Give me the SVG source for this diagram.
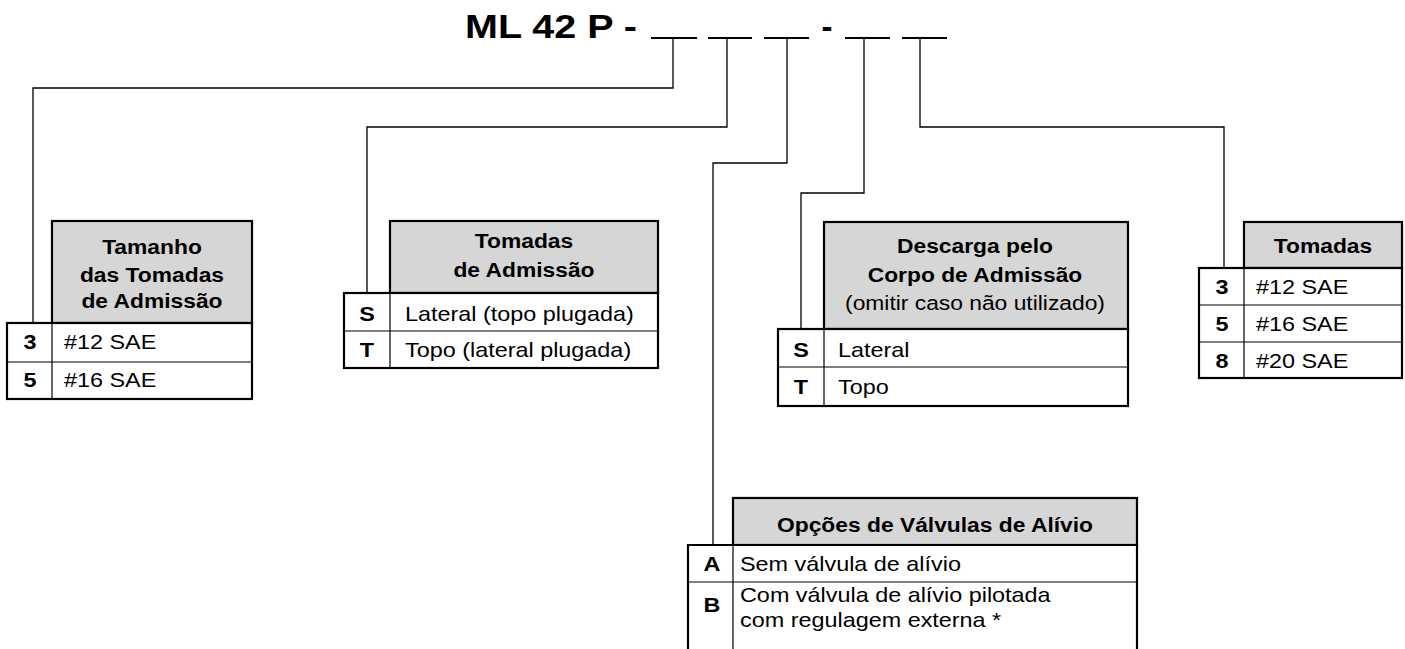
<svg xmlns="http://www.w3.org/2000/svg" width="1405" height="649" viewBox="0 0 1405 649">
<style>
.hdr{fill:#d6d6d6;stroke:#000;stroke-width:2.2}
.box{fill:#fff;stroke:#000;stroke-width:2.2}
.div{stroke:#000;stroke-width:1.2;fill:none}
.con{stroke:#000;stroke-width:1.3;fill:none}
.blank{stroke:#000;stroke-width:2}
text{font-family:"Liberation Sans",Arial,Helvetica,sans-serif;fill:#000}
.h{font-size:19.5px;font-weight:bold;text-anchor:middle}
.hn{font-size:19.5px;text-anchor:middle}
.k{font-size:20px;font-weight:bold;text-anchor:middle}
.v{font-size:20px}
.title{font-size:33px;font-weight:bold}
</style>
<g id="title">
<text class="title" x="465" y="38" textLength="172" lengthAdjust="spacingAndGlyphs">ML 42 P -</text>
<line class="blank" x1="651" y1="38" x2="697" y2="38"/>
<line class="blank" x1="708" y1="38" x2="752" y2="38"/>
<line class="blank" x1="764" y1="38" x2="809" y2="38"/>
<text class="title" x="827" y="38" text-anchor="middle">-</text>
<line class="blank" x1="845" y1="38" x2="890" y2="38"/>
<line class="blank" x1="902" y1="38" x2="947" y2="38"/>
</g>
<g id="connectors">
<path class="con" d="M673,39 V88 H33 V323"/>
<path class="con" d="M727,39 V127 H367 V293"/>
<path class="con" d="M787,39 V163 H713 V545"/>
<path class="con" d="M864,39 V193 H801 V329"/>
<path class="con" d="M920,39 V127 H1224 V268"/>
</g>
<g id="table-tamanho">
<rect class="hdr" x="52" y="221" width="200" height="102"/>
<rect class="box" x="7" y="323" width="245" height="76"/>
<line class="div" x1="7" y1="362" x2="252" y2="362"/>
<line class="div" x1="52" y1="323" x2="52" y2="399"/>
<g transform="scale(1.17 1)">
<text class="h" x="129.91" y="254">Tamanho</text>
<text class="h" x="129.91" y="282">das Tomadas</text>
<text class="h" x="129.91" y="308">de Admissão</text>
<text class="k" x="25.64" y="349">3</text>
<text class="v" x="54.70" y="349">#12 SAE</text>
<text class="k" x="25.64" y="387">5</text>
<text class="v" x="54.70" y="387">#16 SAE</text>
</g>
</g>
<g id="table-tomadas-admissao">
<rect class="hdr" x="390" y="221" width="268" height="72"/>
<rect class="box" x="344" y="293" width="314" height="75"/>
<line class="div" x1="344" y1="331" x2="658" y2="331"/>
<line class="div" x1="390" y1="293" x2="390" y2="368"/>
<g transform="scale(1.17 1)">
<text class="h" x="447.86" y="248">Tomadas</text>
<text class="h" x="447.86" y="277">de Admissão</text>
<text class="k" x="313.68" y="321">S</text>
<text class="v" x="346.15" y="321">Lateral (topo plugada)</text>
<text class="k" x="313.68" y="357">T</text>
<text class="v" x="346.15" y="357">Topo (lateral plugada)</text>
</g>
</g>
<g id="table-descarga">
<rect class="hdr" x="824" y="222" width="304" height="107"/>
<rect class="box" x="778" y="329" width="350" height="77"/>
<line class="div" x1="778" y1="367" x2="1128" y2="367"/>
<line class="div" x1="824" y1="329" x2="824" y2="406"/>
<g transform="scale(1.17 1)">
<text class="h" x="833.33" y="253">Descarga pelo</text>
<text class="h" x="833.33" y="282">Corpo de Admissão</text>
<text class="hn" x="833.33" y="310">(omitir caso não utilizado)</text>
<text class="k" x="684.62" y="357">S</text>
<text class="v" x="716.24" y="357">Lateral</text>
<text class="k" x="684.62" y="394">T</text>
<text class="v" x="716.24" y="394">Topo</text>
</g>
</g>
<g id="table-tomadas">
<rect class="hdr" x="1244" y="222" width="158" height="46"/>
<rect class="box" x="1199" y="268" width="203" height="110"/>
<line class="div" x1="1199" y1="305" x2="1402" y2="305"/>
<line class="div" x1="1199" y1="342" x2="1402" y2="342"/>
<line class="div" x1="1244" y1="268" x2="1244" y2="378"/>
<g transform="scale(1.17 1)">
<text class="h" x="1130.77" y="253">Tomadas</text>
<text class="k" x="1044.44" y="294">3</text>
<text class="v" x="1073.50" y="294">#12 SAE</text>
<text class="k" x="1044.44" y="331">5</text>
<text class="v" x="1073.50" y="331">#16 SAE</text>
<text class="k" x="1044.44" y="368">8</text>
<text class="v" x="1073.50" y="368">#20 SAE</text>
</g>
</g>
<g id="table-valvulas">
<rect class="hdr" x="733" y="498" width="404" height="47"/>
<path class="box" d="M688,655 V545 H1137 V655"/>
<line class="div" x1="688" y1="582" x2="1137" y2="582"/>
<line class="div" x1="733" y1="545" x2="733" y2="655"/>
<g transform="scale(1.17 1)">
<text class="h" x="799.15" y="532">Opções de Válvulas de Alívio</text>
<text class="k" x="608.55" y="571">A</text>
<text class="v" x="632.48" y="571">Sem válvula de alívio</text>
<text class="k" x="608.55" y="612">B</text>
<text class="v" x="632.48" y="602">Com válvula de alívio pilotada</text>
<text class="v" x="632.48" y="627">com regulagem externa *</text>
</g>
</g>
</svg>
